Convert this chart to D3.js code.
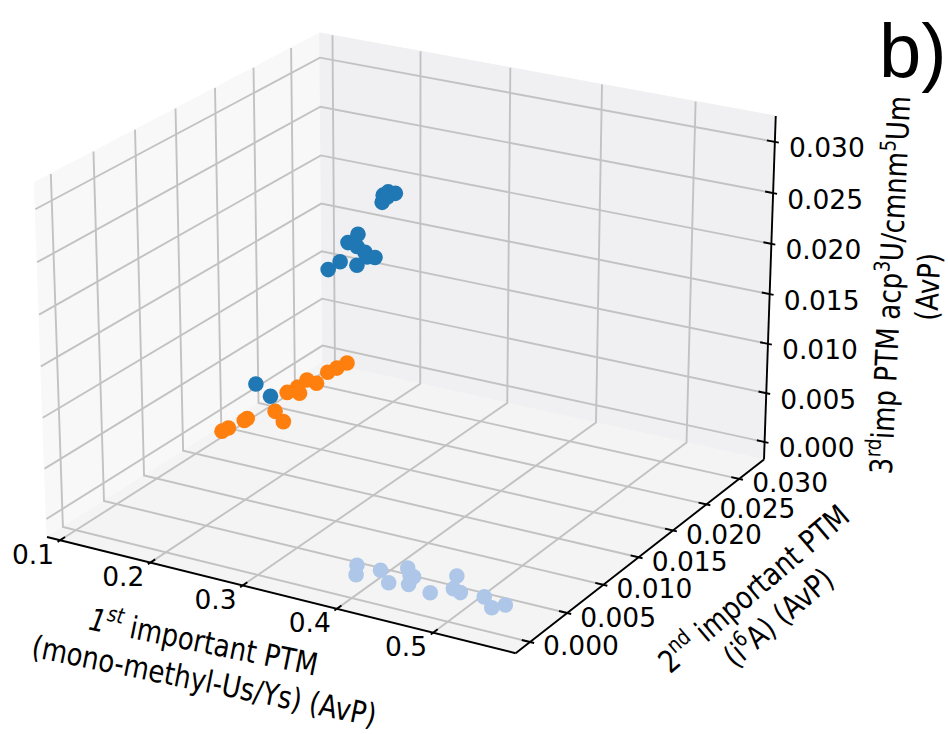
<!DOCTYPE html>
<html>
<head>
<meta charset="utf-8">
<script src="https://cdn.jsdelivr.net/npm/d3@7"></script>
<style>
  body { margin: 0; background: #fff; }
  text { font-family: "DejaVu Sans", sans-serif; fill: #000; }
</style>
</head>
<body>
<svg id="chart" width="948" height="734"></svg>
<script>
// Axis limits of the 3D box (data units)
const xLim = [0.0854, 0.584];
const yLim = [-0.0019, 0.0339];
const zLim = [-0.0018, 0.0325];

// Tick values
const xTicks = [0.1, 0.2, 0.3, 0.4, 0.5];
const yTicks = [0.000, 0.005, 0.010, 0.015, 0.020, 0.025, 0.030];
const zTicks = [0.000, 0.005, 0.010, 0.015, 0.020, 0.025, 0.030];

// Group 1 (dark blue)
const g1X = [0.3392, 0.3403, 0.3456, 0.3531, 0.3446, 0.3134, 0.3027, 0.3123, 0.3208,
             0.3314, 0.3229, 0.2941, 0.2812, 0.3121, 0.2006, 0.2166];
const g1Y = [0.0115, 0.0115, 0.0115, 0.0115, 0.0115, 0.0115, 0.0115, 0.0115, 0.0115,
             0.0115, 0.0115, 0.0115, 0.0115, 0.0115, 0.0115, 0.0115];
const g1Z = [0.0294, 0.0301, 0.0305, 0.0305, 0.0300, 0.0259, 0.0249, 0.0247, 0.0243,
             0.0240, 0.0239, 0.0229, 0.0219, 0.0229, 0.0091, 0.0082];

// Group 2 (orange)
const g2X = [0.1155, 0.1167, 0.1202, 0.1201, 0.1341, 0.1547, 0.1191, 0.1210, 0.1309,
             0.1193, 0.1321, 0.1267, 0.1291, 0.1310];
const g2Y = [0.0167, 0.0174, 0.0191, 0.0195, 0.0216, 0.0203, 0.0250, 0.0262, 0.0253,
             0.0277, 0.0275, 0.0297, 0.0307, 0.0319];
const g2Z = [0, 0, 0, 0, 0, 0, 0, 0, 0, 0, 0, 0, 0, 0];

// Group 3 (light blue)
const g3X = [0.3883, 0.3981, 0.4123, 0.4323, 0.4312, 0.4454, 0.4499, 0.4409, 0.4755,
             0.4786, 0.4892, 0.4988, 0.5218, 0.5388, 0.5465];
const g3Y = [0.0021, 0.0008, 0.0022, 0.0008, 0.0034, 0.0024, 0.0012, 0.0025, 0.0008,
             0.0039, 0.0021, 0.0018, 0.0020, 0.0008, 0.0016];
const g3Z = [0, 0, 0, 0, 0, 0, 0, 0, 0, 0, 0, 0, 0, 0, 0];

const series = [
  { xs: g1X, ys: g1Y, zs: g1Z, color: "#1f77b4" },
  { xs: g2X, ys: g2Y, zs: g2Z, color: "#ff7f0e" },
  { xs: g3X, ys: g3Y, zs: g3Z, color: "#aec7e8" }
];

// ---- 3D projection (perspective camera looking at the box centre) ----
const elev = 23 * Math.PI / 180;
const azim = -60 * Math.PI / 180;
const dist = 10;
const half = [0.5714, 0.5714, 0.4286];   // half extents of the 4:4:3 box

const sx = d3.scaleLinear().domain(xLim).range([-half[0], half[0]]);
const sy = d3.scaleLinear().domain(yLim).range([-half[1], half[1]]);
const sz = d3.scaleLinear().domain(zLim).range([-half[2], half[2]]);

const dot = (a, b) => a[0] * b[0] + a[1] * b[1] + a[2] * b[2];
const nv = [Math.cos(elev) * Math.cos(azim), Math.cos(elev) * Math.sin(azim), Math.sin(elev)];
const uLen = Math.hypot(nv[0], nv[1]);
const uv = [-nv[1] / uLen, nv[0] / uLen, 0];
const vv = [
  nv[1] * uv[2] - nv[2] * uv[1],
  nv[2] * uv[0] - nv[0] * uv[2],
  nv[0] * uv[1] - nv[1] * uv[0]
];

// projected plane -> pixels
const px = d3.scaleLinear().domain([-0.1, 0.1]).range([412.3 - 466.8, 412.3 + 466.8]);
const py = d3.scaleLinear().domain([-0.1, 0.1]).range([326 + 442, 326 - 442]);

function project(x, y, z) {
  const q = [sx(x), sy(y), sz(z)];
  const d = dist - dot(nv, q);
  return [px(dot(uv, q) / d), py(dot(vv, q) / d), d];
}

const svg = d3.select("#chart");
const line = d3.line();
const path3 = pts => line(pts.map(p => project(p[0], p[1], p[2]).slice(0, 2)));

const [x0, x1] = xLim, [y0, y1] = yLim, [z0, z1] = zLim;

// ---- panes ----
const panes = [
  { pts: [[x0, y0, z0], [x0, y1, z0], [x0, y1, z1], [x0, y0, z1]], fill: "#f8f8f8" },
  { pts: [[x0, y1, z0], [x1, y1, z0], [x1, y1, z1], [x0, y1, z1]], fill: "#f0f0f2" },
  { pts: [[x0, y0, z0], [x1, y0, z0], [x1, y1, z0], [x0, y1, z0]], fill: "#f4f4f4" }
];
svg.append("g").selectAll("path").data(panes).join("path")
  .attr("d", d => path3(d.pts) + "Z")
  .attr("fill", d => d.fill)
  .attr("stroke", d => d.fill);

// ---- grid ----
const grid = svg.append("g").attr("fill", "none").attr("stroke", "#c2c2c2").attr("stroke-width", 1.9);
xTicks.forEach(t => grid.append("path").attr("d", path3([[t, y0, z0], [t, y1, z0], [t, y1, z1]])));
yTicks.forEach(t => grid.append("path").attr("d", path3([[x1, t, z0], [x0, t, z0], [x0, t, z1]])));
zTicks.forEach(t => grid.append("path").attr("d", path3([[x0, y0, t], [x0, y1, t], [x1, y1, t]])));

// ---- axis lines and ticks ----
const ax = svg.append("g").attr("fill", "none").attr("stroke", "#000").attr("stroke-width", 1.9);
ax.append("path").attr("d", path3([[x0, y0, z0], [x1, y0, z0]]));
ax.append("path").attr("d", path3([[x1, y0, z0], [x1, y1, z0]]));
ax.append("path").attr("d", path3([[x1, y1, z0], [x1, y1, z1]]));

const rx = x1 - x0, ry = y1 - y0;
const tin = 0.0167, tout = 0.0083;
xTicks.forEach(t => ax.append("path").attr("d", path3([[t, y0 + tin * ry, z0], [t, y0 - tout * ry, z0]])));
yTicks.forEach(t => ax.append("path").attr("d", path3([[x1 - tin * rx, t, z0], [x1 + tout * rx, t, z0]])));
zTicks.forEach(t => ax.append("path").attr("d", path3([[x1 - tin * rx, y1, t], [x1 + tout * rx, y1, t]])));

// ---- tick labels ----
const tl = svg.append("g").attr("font-size", 26.5).attr("text-anchor", "middle")
  .attr("dominant-baseline", "central");
const f1 = d3.format(".1f"), f3 = d3.format(".3f");
xTicks.forEach(t => {
  const p = project(t, y0, z0);
  tl.append("text").attr("x", p[0] - 27).attr("y", p[1] + 14).text(f1(t));
});
yTicks.forEach(t => {
  const p = project(x1, t, z0);
  tl.append("text").attr("x", p[0] + 51).attr("y", p[1] + 4).text(f3(t));
});
zTicks.forEach(t => {
  const p = project(x1, y1, t);
  tl.append("text").attr("x", p[0] + 52).attr("y", p[1] + 6).text(f3(t));
});

// ---- points (far ones first) ----
const pts = [];
series.forEach(s => s.xs.forEach((x, i) => {
  const p = project(x, s.ys[i], s.zs[i]);
  pts.push({ x: p[0], y: p[1], d: p[2], color: s.color });
}));
pts.sort((a, b) => b.d - a.d);
svg.append("g").selectAll("circle").data(pts).join("circle")
  .attr("cx", d => d.x).attr("cy", d => d.y).attr("r", 7.8)
  .attr("fill", d => d.color);

// ---- axis titles (narrow set type) ----
function richLine(parent, parts, size, xOff, yBase) {
  const t = parent.append("text").attr("x", xOff).attr("y", yBase)
    .attr("text-anchor", "middle").attr("font-size", size);
  let raised = false;
  parts.forEach(p => {
    const ts = t.append("tspan").text(p.t);
    if (p.sup && !raised) { ts.attr("dy", -size * 0.4).attr("font-size", size * 0.7); raised = true; }
    else if (p.sup) { ts.attr("font-size", size * 0.7); }
    else if (raised) { ts.attr("dy", size * 0.4); raised = false; }
    if (p.it) ts.attr("font-style", "italic");
  });
  return t;
}
const LS = 31;
function title(cx, cy, angle, lines, shift1) {
  const g = svg.append("g")
    .attr("transform", `translate(${cx},${cy}) rotate(${angle}) scale(0.84,1)`);
  richLine(g, lines[0], LS, shift1 || 0, -19 + 11);
  richLine(g, lines[1], LS, 0, 19 + 11);
}
title(208, 662, 11.5, [
  [{ t: "1", it: true }, { t: "st", sup: true, it: true }, { t: " important PTM" }],
  [{ t: "(mono-methyl-Us/Ys) (AvP)" }]
], -10);
title(766, 603, -40.5, [
  [{ t: "2" }, { t: "nd", sup: true }, { t: " important PTM" }],
  [{ t: "(i" }, { t: "6", sup: true }, { t: "A) (AvP)" }]
]);
title(909, 286, -87.2, [
  [{ t: "3" }, { t: "rd", sup: true }, { t: "imp PTM acp" }, { t: "3", sup: true }, { t: "U/cmnm" },
   { t: "5", sup: true }, { t: "Um" }],
  [{ t: "(AvP)" }]
]);

// panel letter
svg.append("text").attr("x", 879).attr("y", 77)
  .style("font-family", "'Liberation Sans', Arial, sans-serif")
  .attr("font-size", 76).text("b)");
</script>
</body>
</html>
